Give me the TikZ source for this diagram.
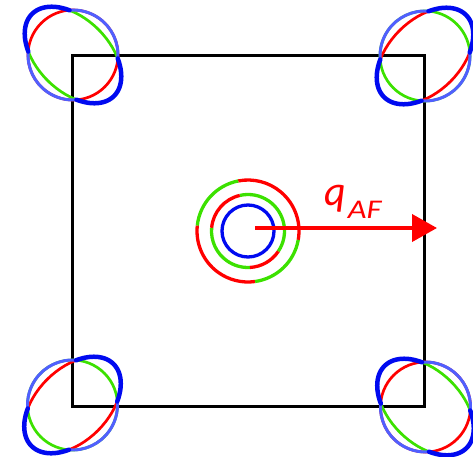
\documentclass[tikz,border=0pt]{standalone}
\usepackage{fontspec}
\newfontfamily\lblfont{Carlito}
\usetikzlibrary{arrows.meta}
\definecolor{fsred}{RGB}{255,0,0}
\definecolor{fsgreen}{RGB}{60,225,0}
\definecolor{fsblue}{RGB}{0,10,240}
\definecolor{fsbluethin}{RGB}{80,95,255}
\tikzset{
  sqline/.style={line width=3pt, black},
  ringline/.style={line width=3.3pt},
  pline/.style={line width=2.7pt},
  bthin/.style={line width=3pt, fsbluethin},
  bthick/.style={line width=4.5pt, fsblue, line cap=round},
  qarrow/.style={line width=4pt, fsred, -{Triangle[length=25pt,width=27pt]}}
}
\newcommand\pocketdraw[4]{%
  \begin{scope}[shift={#1}, rotate=#2]
    \draw[pline, #4] (0,0) circle [radius=45];
    \draw[pline, #3] (0,0) ellipse [x radius=58, y radius=36];
    \draw[bthin] (40:45) arc[start angle=40, end angle=140, radius=45];
    \draw[bthin] (220:45) arc[start angle=220, end angle=320, radius=45];
    \draw[bthick] plot[domain=-54:54, samples=40] ({58*cos(\x)},{36*sin(\x)});
    \draw[bthick] plot[domain=126:234, samples=40] ({58*cos(\x)},{36*sin(\x)});
  \end{scope}}
\begin{document}
\begin{tikzpicture}[x=1pt, y=1pt]
  \useasboundingbox (0,0) rectangle (473,456);
  \coordinate (sqa) at (72,50);
  \coordinate (sqb) at (424,400);
  \draw[sqline] (sqa) rectangle (sqb);
  \pocketdraw{(73,401)}{-45}{fsgreen}{fsred}
  \pocketdraw{(425,400)}{45}{fsred}{fsgreen}
  \pocketdraw{(72.5,51)}{45}{fsred}{fsgreen}
  \pocketdraw{(425.5,49)}{-45}{fsgreen}{fsred}
  % center pockets
  \coordinate (cc) at (248,225);
  \draw[ringline, fsred]   (cc) ++(-10:51) arc[start angle=-10, end angle=101, radius=51];
  \draw[ringline, fsgreen] (cc) ++(101:51) arc[start angle=101, end angle=174, radius=51];
  \draw[ringline, fsred]   (cc) ++(174:51) arc[start angle=174, end angle=278, radius=51];
  \draw[ringline, fsgreen] (cc) ++(278:51) arc[start angle=278, end angle=350, radius=51];
  \draw[ringline, fsgreen] (cc) ++(-34:36.5) arc[start angle=-34, end angle=103, radius=36.5];
  \draw[ringline, fsred]   (cc) ++(103:36.5) arc[start angle=103, end angle=175, radius=36.5];
  \draw[ringline, fsgreen] (cc) ++(175:36.5) arc[start angle=175, end angle=273, radius=36.5];
  \draw[ringline, fsred]   (cc) ++(273:36.5) arc[start angle=273, end angle=326, radius=36.5];
  \draw[ringline, fsblue]  (cc) circle [radius=26];
  % arrow
  \coordinate (qs) at (255,228);
  \coordinate (qe) at (437,228);
  \draw[qarrow] (qs) -- (qe);
  \node[anchor=base west, inner sep=0, text=fsred] (qlab) at (324,251)
    {\lblfont\itshape\fontsize{42}{42}\selectfont q\kern2pt\raisebox{-13pt}{\scalebox{1.2}[1]{\fontsize{27}{27}\selectfont AF}}};
\end{tikzpicture}
\end{document}
